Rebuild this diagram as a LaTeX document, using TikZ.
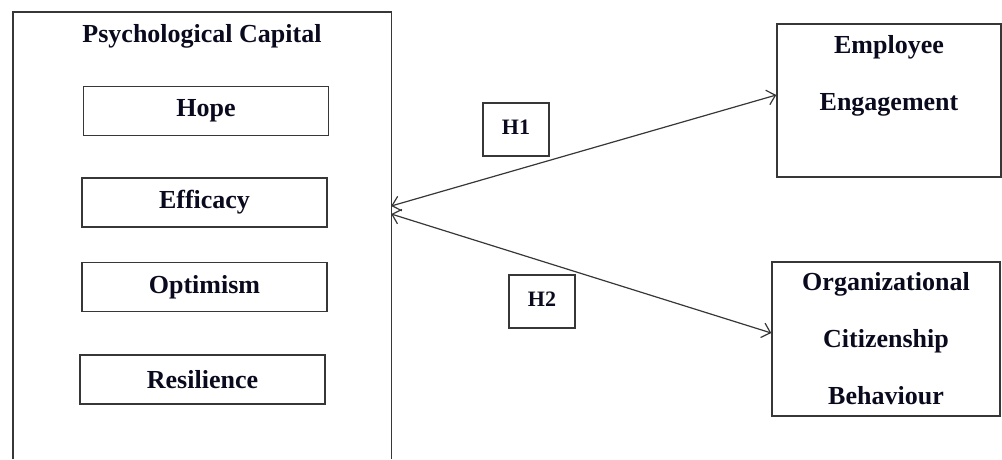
\documentclass[tikz,border=0pt]{standalone}
\usepackage{fontspec}
\setmainfont{Liberation Serif}
\usetikzlibrary{arrows.meta}
\definecolor{linegray}{RGB}{55,55,55}
\definecolor{textnavy}{RGB}{10,10,30}
\tikzset{
  every node/.style={font=\bfseries\fontsize{26}{57}\selectfont, text=textnavy, inner sep=0pt, align=center},
  frame/.style={draw=linegray, line width=1.4pt},
  itembox/.style={frame, minimum width=245pt, minimum height=49pt},
  hbox/.style={frame, minimum width=66pt, minimum height=53pt, font=\bfseries\fontsize{22}{26}\selectfont},
  biarrow/.style={draw=linegray, line width=1.2pt, {Straight Barb[length=8pt,width=15pt]}-{Straight Barb[length=8pt,width=15pt]}}
}
\begin{document}
\begin{tikzpicture}[x=1pt,y=-1pt]
\useasboundingbox (0,0) rectangle (1002,459);
% main container (open at the bottom)
\node[minimum width=378pt, minimum height=447pt] (pc) at (202,235.5) {};
\draw[frame] (pc.south west) -- (pc.north west) -- (pc.north east) -- (pc.south east);
\node (pctitle) at (202,36) {Psychological Capital};
\node[itembox] (hope) at (206,111) {Hope};
\node[itembox] (eff) at (204.5,202.5) {Efficacy};
\node[itembox] (opt) at (204.5,287) {Optimism};
\node[itembox] (res) at (202.5,379.5) {Resilience};
% outcome boxes
\node[frame, minimum width=224pt, minimum height=153pt] (ee) at (889,100.5) {};
\node (eetext) at (889,76) {Employee\\Engagement};
\node[frame, minimum width=228pt, minimum height=154pt] (ocb) at (886,339) {Organizational\\Citizenship\\Behaviour};
% hypothesis labels
\node[hbox] (h1) at (516,129.5) {\raisebox{4pt}{H1}};
\node[hbox] (h2) at (542,301.5) {\raisebox{4pt}{H2}};
% arrows
\draw[biarrow] ([yshift=29.5pt]pc.east) -- ([yshift=5.5pt]ee.west);
\draw[biarrow] ([yshift=21.5pt]pc.east) -- ([yshift=6pt]ocb.west);
\end{tikzpicture}
\end{document}
